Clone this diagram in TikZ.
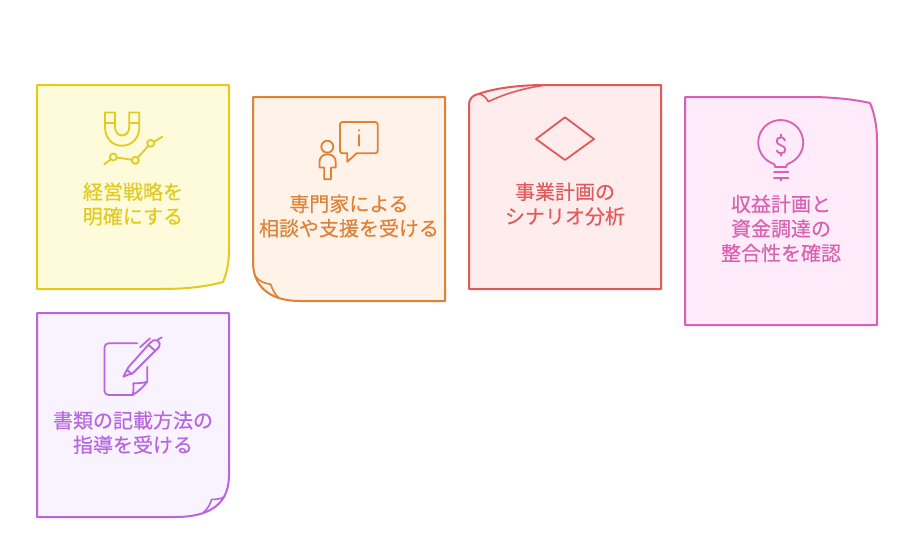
\documentclass[tikz,border=0pt]{standalone}
\usepackage{fontspec}
\newfontfamily\cjk[FakeBold=0.35]{Noto Sans CJK JP}
\definecolor{yS}{HTML}{E2CA1E}\definecolor{yF}{HTML}{FEFBDA}
\definecolor{oS}{HTML}{DD8236}\definecolor{oF}{HTML}{FFF2E8}
\definecolor{rS}{HTML}{E05A5C}\definecolor{rF}{HTML}{FFEDED}
\definecolor{pS}{HTML}{D961B2}\definecolor{pF}{HTML}{FFEBF9}
\definecolor{vS}{HTML}{B866DE}\definecolor{vF}{HTML}{F9F2FF}
\tikzset{
  card/.style={line width=2pt,line join=round},
  fold/.style={line width=1.6pt,line join=round},
  icon/.style={line width=1.8pt,line join=round,line cap=round},
  label/.style={font=\cjk\fontsize{20}{24.5}\selectfont,align=center,inner sep=0pt,anchor=center},
}
\begin{document}
\begin{tikzpicture}[x=1pt,y=-1pt]
\useasboundingbox (0,0) rectangle (914,554);
\fill[white] (0,0) rectangle (914,554);

% card 1
\path[card,draw=yS,fill=yF] (37,85) -- (229,85) -- (229,250) .. controls (229,265) and (226,275) .. (223,282) .. controls (205,287) and (185,289) .. (160,289) -- (37,289) -- cycle;
% magnet
\draw[icon,yS] (105,112.5) -- (115,112.5) -- (115,127) .. controls (115,132) and (118,135.5) .. (122,135.5) .. controls (126,135.5) and (129.3,132) .. (129.3,127) -- (129.3,112.5) -- (139.3,112.5) -- (139.3,127) .. controls (139.3,138) and (132,145.7) .. (122,145.7) .. controls (112,145.7) and (105,138) .. (105,127) -- cycle;
\draw[icon,yS] (105,122.7) -- (115,122.7) (129.3,122.7) -- (139.3,122.7);
\draw[icon,yS] (113.3,157) circle[radius=3.5pt] (135.3,160.3) circle[radius=3.5pt] (150.7,143.3) circle[radius=3.5pt];
\draw[icon,yS] (104.3,164.5) -- (110.6,159.2) (116.8,157.5) -- (131.8,159.8) (137.7,157.7) -- (148.3,146) (153.9,141.8) -- (162.3,136.7);
\node[label,text=yS] (t1) at (133,204) {経営戦略を\\明確にする};

% card 2
\path[card,draw=oS,fill=oF] (253,97) -- (445,97) -- (445,301) -- (300,301) .. controls (268,301) and (253,285) .. (253,262) -- cycle;
\draw[fold,oS] (255,276) .. controls (259,281) and (264,283.5) .. (270.7,284.3) .. controls (272.5,290) and (275,294.5) .. (279,298);
% person + bubble
\draw[icon,oS] (327.3,146.7) circle[radius=6pt];
\draw[icon,oS] (324.2,179.3) -- (324.2,167.5) -- (319.5,167.5) -- (319.5,162) .. controls (319.5,157) and (323,154.3) .. (327.5,154.3) .. controls (332,154.3) and (335.7,157) .. (335.7,162) -- (335.7,167.5) -- (331,167.5) -- (331,179.3) -- cycle;
\draw[icon,oS,rounded corners=2.5pt] (347.3,153.3) -- (340,153.3) -- (340,122) -- (377.7,122) -- (377.7,153.3) -- (356.7,153.3);
\draw[icon,oS] (347.3,153.3) -- (347.3,161.7) -- (356.7,153.3);
\draw[icon,oS] (359,135) -- (359,145.7);
\fill[oS] (359,130.3) circle[radius=1.1pt];
\node[label,text=oS] (t2) at (349,216) {専門家による\\相談や支援を受ける};

% card 3
\path[card,draw=rS,fill=rF] (469,113) -- (469,104) .. controls (469,99) and (473,95) .. (478.3,94) .. controls (495,88) and (520,85) .. (545,85) -- (661,85) -- (661,289) -- (469,289) -- cycle;
\draw[fold,rS] (478.3,94) .. controls (482,94) and (486,97) .. (488.3,101.7) .. controls (505,93.5) and (525,88) .. (543,85.5);
\draw[icon,rS] (565,117.3) -- (594,139) -- (565,160) -- (536,139) -- cycle;
\node[label,text=rS] (t3) at (565,204) {事業計画の\\シナリオ分析};

% card 4
\path[card,draw=pS,fill=pF] (685,97) -- (815,97) .. controls (835,97.5) and (855,99.5) .. (870,103) .. controls (874.5,113) and (877,127) .. (877,140) -- (877,325) -- (685,325) -- cycle;
% bulb
\draw[icon,pS] (775,167) .. controls (775,165) and (775,164.3) .. (773,163.6) .. controls (764.5,160.5) and (758.2,152) .. (758.2,142.5) .. controls (758.2,130) and (768.3,120) .. (780.7,120) .. controls (793.1,120) and (803.2,130) .. (803.2,142.5) .. controls (803.2,152) and (797,160.5) .. (788.4,163.6) .. controls (786.5,164.3) and (786.5,165) .. (786.5,167) -- cycle;
\draw[icon,pS] (774,172.3) -- (788.3,172.3) (774,178.3) -- (788.3,178.3) (781,178.3) -- (781,180.7);
\draw[icon,pS] (785,140.5) .. controls (784,138) and (782.5,137.3) .. (781,137.3) .. controls (778,137.3) and (776.7,139) .. (776.7,141) .. controls (776.7,143) and (778,144.3) .. (781,145.3) .. controls (784,146.3) and (785.3,147.8) .. (785.3,149.7) .. controls (785.3,151.8) and (783.8,153.3) .. (781,153.3) .. controls (779,153.3) and (777.5,152.5) .. (776.7,150.5);
\draw[icon,pS] (781,134.3) -- (781,137.3) (781,153.3) -- (781,155.7);
\node[label,text=pS] (t4) at (781,228.5) {収益計画と\\資金調達の\\整合性を確認};

% card 5
\path[card,draw=vS,fill=vF] (37,313) -- (229,313) -- (229,475) .. controls (229,500) and (215,517) .. (175,517) -- (37,517) -- cycle;
\draw[fold,vS] (225,496.7) .. controls (220,499) and (216,499.5) .. (211.7,499.3) .. controls (210,505) and (207,509.5) .. (203.3,512.7);
% document + pen
\draw[icon,vS,rounded corners=4pt] (137.3,343.3) -- (104.5,343.3) -- (104.5,395) -- (132.7,395);
\draw[icon,vS] (147.3,366.7) -- (147.3,381.7) .. controls (143,387) and (138,392) .. (132.7,395) .. controls (133.5,391) and (133.8,387) .. (133.3,383.3) .. controls (138,383.5) and (143,383) .. (147.3,381.7);
\draw[icon,vS] (123.3,376.7) -- (128.3,367.3) -- (150,343) .. controls (152,340.5) and (155,339) .. (157.5,340.5) .. controls (160,342) and (160.5,345) .. (159,347) -- (133.3,372.7) -- cycle;
\draw[icon,vS] (126.7,369.5) -- (131.7,374.3) (148.3,344.7) -- (154.3,350) (140,347.3) -- (150,338.3) (157.5,340) -- (161.7,337.3);
\node[label,text=vS] (t5) at (133,432.5) {書類の記載方法の\\指導を受ける};
\end{tikzpicture}
\end{document}
